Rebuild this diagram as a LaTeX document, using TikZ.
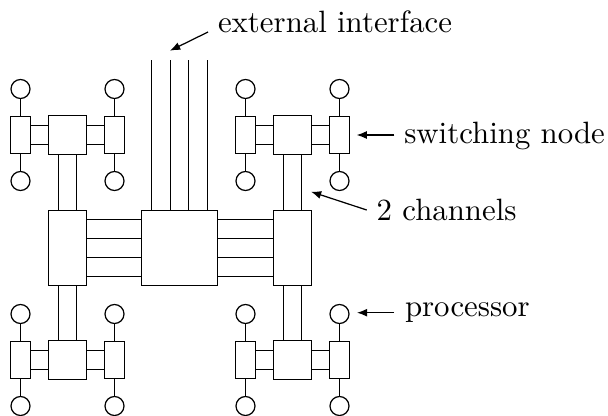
\documentclass[tikz,border=0pt]{standalone}
\usetikzlibrary{calc,arrows.meta}
\def\u{0.3243pt}
\tikzset{
  box/.style={draw, line width=0.4pt, inner sep=0pt, outer sep=0pt},
  proc/.style={draw, circle, line width=0.4pt, inner sep=0pt, outer sep=0pt, minimum size=19*\u},
  wire/.style={line width=0.4pt},
  arr/.style={line width=0.4pt, -{Latex[length=3.3pt,width=2.6pt]}},
  lbl/.style={inner sep=0pt, outer sep=0pt, font=\fontsize{10}{12}\selectfont},
}
\newcommand\cluster[3]{%
  \node[box, minimum width=38*\u, minimum height=39*\u] (#1m) at (#2,#3) {};
  \node[box, minimum width=20*\u, minimum height=37*\u] (#1l) at (#2-47,#3) {};
  \node[box, minimum width=20*\u, minimum height=37*\u] (#1r) at (#2+47,#3) {};
  \node[proc] (#1lt) at (#2-47,#3-46) {};
  \node[proc] (#1lb) at (#2-47,#3+46) {};
  \node[proc] (#1rt) at (#2+47,#3-46) {};
  \node[proc] (#1rb) at (#2+47,#3+46) {};
  \draw[wire] (#1l.north) -- (#1lt.south);
  \draw[wire] (#1l.south) -- (#1lb.north);
  \draw[wire] (#1r.north) -- (#1rt.south);
  \draw[wire] (#1r.south) -- (#1rb.north);
  \foreach \dy in {-9.5,9.5}{
    \draw[wire] ($(#1l.east)+(0,\dy)$) -- ($(#1m.west)+(0,\dy)$);
    \draw[wire] ($(#1m.east)+(0,\dy)$) -- ($(#1r.west)+(0,\dy)$);
  }
}
\begin{document}
\begin{tikzpicture}[x=\u, y=-\u]
\useasboundingbox (0,0) rectangle (608,415);
\clip (0,0) rectangle (608,415);

\cluster{TL}{67.5}{135}
\cluster{TR}{292.5}{135}
\cluster{BL}{67.5}{360}
\cluster{BR}{292.5}{360}

\node[box, minimum width=38*\u, minimum height=75*\u] (SL) at (67.5,248) {};
\node[box, minimum width=38*\u, minimum height=75*\u] (SR) at (292.5,248) {};
\node[box, minimum width=76*\u, minimum height=75*\u] (C) at (179.5,248) {};

\foreach \dx in {-9,9}{
  \draw[wire] ($(TLm.south)+(\dx,0)$) -- ($(SL.north)+(\dx,0)$);
  \draw[wire] ($(BLm.north)+(\dx,0)$) -- ($(SL.south)+(\dx,0)$);
  \draw[wire] ($(TRm.south)+(\dx,0)$) -- ($(SR.north)+(\dx,0)$);
  \draw[wire] ($(BRm.north)+(\dx,0)$) -- ($(SR.south)+(\dx,0)$);
}
\foreach \dy in {-28.5,-9.5,9.5,28.5}{
  \draw[wire] ($(SL.east)+(0,\dy)$) -- ($(C.west)+(0,\dy)$);
  \draw[wire] ($(C.east)+(0,\dy)$) -- ($(SR.west)+(0,\dy)$);
}
\foreach \i/\dx in {1/-28,2/-9,3/9,4/28}{
  \coordinate (ext\i) at (179.5+\dx,60);
  \draw[wire] ($(C.north)+(\dx,0)$) -- (ext\i);
}

% labels
\node[lbl, anchor=base west] (lext) at (218,32) {external interface};
\coordinate (exttip) at (170,50.7);
\draw[arr] ($(lext.base west)+(-10,0)$) -- (exttip);

\node[lbl, anchor=base west] (lsw) at (404.3,143) {switching node};
\coordinate (swtip) at (356.7,135);
\draw[arr] (394.3,135) -- (swtip);

\node[lbl, anchor=base west] (lch) at (376.7,220) {2 channels};
\coordinate (chtip) at (311,191.7);
\draw[arr] ($(lch.base west)+(-10,-10)$) -- (chtip);

\node[lbl, anchor=base west] (lpr) at (405,316.7) {processor};
\coordinate (prtip) at (357,312.7);
\draw[arr] ($(lpr.base west)+(-11,-4)$) -- (prtip);
\end{tikzpicture}
\end{document}
